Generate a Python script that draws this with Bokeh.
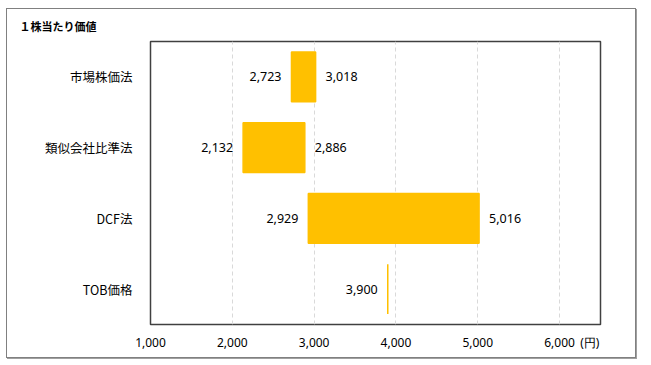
from bokeh.plotting import figure
from bokeh.models import FactorRange, Range1d, ColumnDataSource, FixedTicker, NumeralTickFormatter
from bokeh.core.properties import value
from bokeh.embed import file_html
from bokeh.resources import INLINE

title_text = "１株当たり価値"
categories = ["市場株価法", "類似会社比準法", "DCF法", "TOB価格"]
low = [2723, 2132, 2929, 3900]
high = [3018, 2886, 5016, 3900]
x_ticks = [1000, 2000, 3000, 4000, 5000, 6000]
unit_label = "(円)"
unit_pos = 6370

JP = "Noto Sans CJK JP"
NUM = "Noto Sans"
BAR = "#FFC000"

p = figure(width=630, height=350, output_backend="svg", toolbar_location=None,
           y_range=FactorRange(factors=list(reversed(categories))),
           x_range=Range1d(1000, 6500),
           min_border_left=143, min_border_top=32, min_border_right=37, min_border_bottom=35)
p.styles = {"border": "1px solid #808080", "box-shadow": "1px 1px 0 #a0a0a0",
            "margin-left": "6px", "margin-top": "8px"}

p.title.text = title_text
p.title.align = "left"
p.title.offset = -131
p.title.standoff = 12
p.title.vertical_align = "top"
p.title.text_font = JP
p.title.text_font_size = "11px"
p.title.text_font_style = "bold"
p.title.text_color = "#000000"

p.outline_line_color = "#404040"
p.outline_line_width = 1.5
p.ygrid.grid_line_color = None
p.xgrid.grid_line_color = "#d9d9d9"
p.xgrid.grid_line_dash = "4 3"
p.xgrid.ticker = FixedTicker(ticks=x_ticks[1:])

p.xaxis.ticker = FixedTicker(ticks=x_ticks + [unit_pos])
p.xaxis.formatter = NumeralTickFormatter(format="0,0")
p.xaxis.major_label_overrides = {unit_pos: unit_label}
p.xaxis.axis_line_color = None
p.xaxis.major_tick_line_color = None
p.xaxis.minor_tick_line_color = None
p.xaxis.major_label_standoff = 3
p.xaxis.major_label_text_font = NUM
p.xaxis.major_label_text_font_size = "12px"
p.xaxis.major_label_text_color = "#000000"

p.yaxis.axis_line_color = None
p.yaxis.major_tick_line_color = None
p.yaxis.minor_tick_line_color = None
p.yaxis.major_label_standoff = 12
p.yaxis.major_label_text_font = JP
p.yaxis.major_label_text_font_size = "12.5px"
p.yaxis.major_label_text_color = "#000000"

src = ColumnDataSource(dict(cat=categories, low=low, high=high,
                            low_txt=[f"{v:,}" for v in low],
                            high_txt=[f"{h:,}" if h != l else "" for l, h in zip(low, high)]))
p.hbar(y="cat", left="low", right="high", height=0.7, source=src,
       fill_color=BAR, line_color=BAR, line_width=1.5)
p.text(x="low", y="cat", text="low_txt", source=src, text_align="right", text_baseline="middle",
       x_offset=-10, text_font=value(NUM), text_font_size="12.5px", text_color="#000000")
p.text(x="high", y="cat", text="high_txt", source=src, text_align="left", text_baseline="middle",
       x_offset=10, text_font=value(NUM), text_font_size="12.5px", text_color="#000000")

open("out.html", "w").write(file_html(p, INLINE))
